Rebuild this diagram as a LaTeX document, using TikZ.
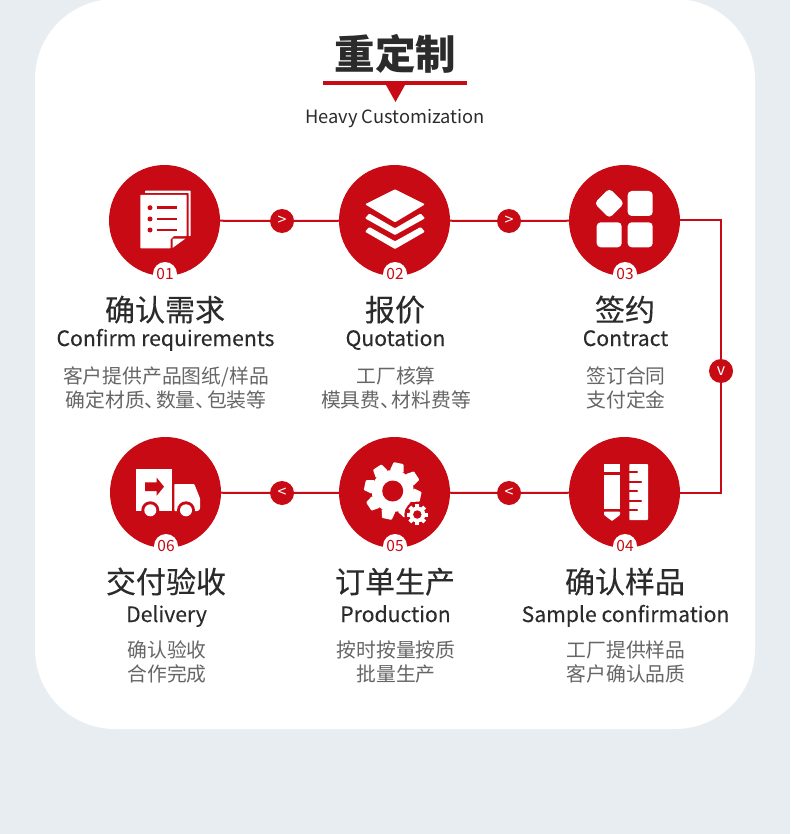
\documentclass[tikz,border=0pt]{standalone}
\usepackage{fontspec}
\setmainfont{Noto Sans CJK SC}
\definecolor{bgc}{HTML}{E8EDF2}
\definecolor{brand}{HTML}{C70A13}
\definecolor{ink}{HTML}{2B2B2B}
\definecolor{soft}{HTML}{666666}
\newcommand{\dun}{、\kern-8.5pt}
\tikzset{
  disc/.style={circle,fill=brand,minimum size=111pt,inner sep=0pt,outer sep=0pt},
  numdisc/.style={circle,fill=white,text=brand,minimum size=24pt,inner sep=0pt,font=\fontsize{15.5pt}{16pt}\selectfont},
  badge/.style={circle,fill=brand,text=white,minimum size=24pt,inner sep=0pt,outer sep=0pt,font=\fontsize{16pt}{16pt}\selectfont},
  link/.style={brand,line width=2pt},
  cntitle/.style={anchor=base,inner sep=0pt,text=ink,font=\fontsize{30pt}{34pt}\selectfont\addfontfeature{FakeBold=0.3}},
  entitle/.style={anchor=base,inner sep=0pt,text=ink,font=\fontsize{21.2pt}{25pt}\selectfont\addfontfeature{FakeBold=0.1}},
  desc/.style={anchor=base,inner sep=0pt,text=soft,font=\fontsize{19.8pt}{24pt}\selectfont},
  ico/.style={fill=white,draw=none},
  icor/.style={fill=brand,draw=none}
}
% #1 id, #2 x, #3 baseline of title, #4 English offset, #5 description offset, #6-#9 texts
\newcommand{\stepblock}[9]{%
  \node[cntitle] (t#1) at (#2,#3) {#6};
  \node[entitle] (e#1) at (#2+0.5,#3+#4) {#7};
  \node[desc] (da#1) at (#2+1,#3+#5) {#8};
  \node[desc] (db#1) at (#2+1,#3+#5+24) {#9};
}
\begin{document}
\begin{tikzpicture}[x=1pt,y=-1pt]
\useasboundingbox (0,0) rectangle (790,834);
\fill[bgc] (0,0) rectangle (790,834);
\fill[white,rounded corners=80pt] (35,-1) rectangle (755,729);

% heading
\node[anchor=base,inner sep=0pt,text=ink,font=\fontsize{40.5pt}{46pt}\selectfont\bfseries] (head) at (395.5,70) {重定制};
\fill[brand] (323,81) rectangle (467,85);
\fill[brand] (386,85) -- (405,85) -- (395.5,102) -- cycle;
\node[anchor=base,inner sep=0pt,text=ink,font=\fontsize{18.3pt}{21pt}\selectfont] (sub) at (395,124) {Heavy Customization};

% discs
\node[disc] (c1) at (164.5,220.5) {};
\node[disc] (c2) at (394.5,220.5) {};
\node[disc] (c3) at (624.5,220.5) {};
\node[disc] (c4) at (624.5,492.5) {};
\node[disc] (c5) at (394.5,492.5) {};
\node[disc] (c6) at (165.5,492.5) {};

% connectors and badges
\node[badge] (b1) at (282,221) {>};
\node[badge] (b2) at (509,221) {>};
\node[badge] (b3) at (721,371) {v};
\node[badge] (b4) at (509,493) {<};
\node[badge] (b5) at (282,493) {<};
\draw[link] (c1) -- (b1);
\draw[link] (b1) -- (c2);
\draw[link] (c2) -- (b2);
\draw[link] (b2) -- (c3);
\draw[link] (c3) -| (b3);
\draw[link] (b3) |- (c4);
\draw[link] (c4) -- (b4);
\draw[link] (b4) -- (c5);
\draw[link] (c5) -- (b5);
\draw[link] (b5) -- (c6);

% number discs
\node[numdisc] (n1) at (165,274) {\raisebox{-2.5pt}{01}};
\node[numdisc] (n2) at (395,274) {\raisebox{-2.5pt}{02}};
\node[numdisc] (n3) at (625,274) {\raisebox{-2.5pt}{03}};
\node[numdisc] (n4) at (625,546) {\raisebox{-2.5pt}{04}};
\node[numdisc] (n5) at (395,546) {\raisebox{-2.5pt}{05}};
\node[numdisc] (n6) at (166,546) {\raisebox{-2.5pt}{06}};

% icon 1: document
\fill[ico,rounded corners=.6pt] (145,190.7) -- (190.7,190.7) -- (190.7,236) -- (188.6,236) -- (188.6,193) -- (145,193) -- cycle;
\fill[ico,rounded corners=.6pt] (140.3,195) -- (186.7,195) -- (186.7,236) -- (174,236) -- (170.7,239) -- (170.7,248.3) -- (140.3,248.3) -- cycle;
\fill[ico] (172.7,247.8) -- (185.5,238.5) -- (172.7,238.5) -- cycle;
\foreach \yy in {207.7,219,230}{
  \fill[icor] (150,\yy) circle (2.5);
  \draw[brand,line width=2.4pt] (156.7,\yy) -- (176.7,\yy);
}

% icon 2: layers
\fill[ico,rounded corners=1pt] (395,189.3) -- (425,204.3) -- (395,222.3) -- (365,204.3) -- cycle;
\fill[ico,rounded corners=1pt] (369.3,213.5) -- (395,228.3) -- (420.7,213.5) -- (425,218.3) -- (395,235) -- (365,218.3) -- cycle;
\fill[ico,rounded corners=1pt] (369.3,227) -- (395,241.3) -- (420.7,227) -- (425,231.7) -- (395,249) -- (365,231.7) -- cycle;

% icon 3: tiles
\fill[ico,rounded corners=4pt] (609.3,188.3) -- (624.3,203.3) -- (609.3,218.3) -- (594.3,203.3) -- cycle;
\fill[ico,rounded corners=4pt] (627.7,191) rectangle (652.7,216);
\fill[ico,rounded corners=4pt] (596.7,222.3) rectangle (621.7,247.3);
\fill[ico,rounded corners=4pt] (627.7,222.3) rectangle (652.7,247.3);

% icon 4: pencil and ruler
\fill[ico] (604,464) rectangle (620,471.7);
\fill[ico] (604,474.5) -- (620,474.5) -- (620,509) -- (604,509) -- cycle;
\fill[ico,rounded corners=.8pt] (604,511.5) -- (620,511.5) -- (620,515) -- (612,521) -- (604,515) -- cycle;
\fill[ico,rounded corners=.8pt] (629.3,464) rectangle (648,520);
\foreach \yy/\xx in {471.7/637,481.7/641,491/637,500.7/641,510/637}{
  \draw[brand,line width=2pt,line cap=round] (628.3,\yy) -- (\xx,\yy);
}

% icon 5: gears
\fill[ico] (392.7,491) circle (21);
\foreach \aa in {-12,33,...,303}{
  \fill[ico,rounded corners=.8pt,rotate around={\aa:(392.7,491)}] (385.7,471) -- (387.7,462.5) -- (397.7,462.5) -- (399.7,471) -- cycle;
}
\fill[icor] (392.7,491) circle (10.5);
\fill[icor] (417.3,514.5) circle (13);
\fill[ico] (417.3,514.5) circle (8);
\foreach \aa in {0,45,...,315}{
  \fill[ico,rotate around={\aa:(417.3,514.5)}] (415.3,504) rectangle (419.3,508.5);
}
\fill[icor] (417.3,514.5) circle (4.2);

% icon 6: truck
\fill[ico] (136,469.3) rectangle (172.3,511);
\fill[icor] (145,482.3) -- (156.7,482.3) -- (156.7,477.7) -- (164,486.7) -- (156.7,495.7) -- (156.7,491) -- (145,491) -- cycle;
\fill[ico,rounded corners=.8pt] (174.3,484) -- (194.3,484) -- (200,498.3) -- (200,509) -- (198,511) -- (174.3,511) -- cycle;
\fill[icor] (150.3,510.3) circle (9);
\fill[ico] (150.3,510.3) circle (6);
\fill[icor] (186,510.3) circle (9);
\fill[ico] (186,510.3) circle (6);

% texts
\stepblock{1}{165}{321}{25}{62}{确认需求}{Confirm requirements}{客户提供产品图纸/样品}{确定材质\dun 数量\dun 包装等}
\stepblock{2}{395}{321}{25}{62}{报价}{Quotation}{工厂核算}{模具费\dun 材料费等}
\stepblock{3}{625}{321}{25}{62}{签约}{Contract}{签订合同}{支付定金}
\stepblock{4}{625}{593}{29}{64}{确认样品}{Sample confirmation}{工厂提供样品}{客户确认品质}
\stepblock{5}{395}{593}{29}{64}{订单生产}{Production}{按时按量按质}{批量生产}
\stepblock{6}{166}{593}{29}{64}{交付验收}{Delivery}{确认验收}{合作完成}
\end{tikzpicture}
\end{document}
